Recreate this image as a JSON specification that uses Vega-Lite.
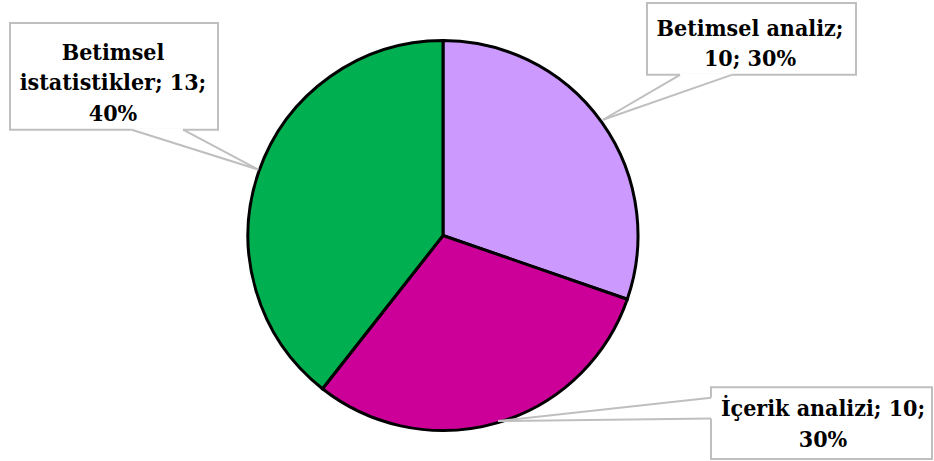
{
  "$schema": "https://vega.github.io/schema/vega-lite/v6.json",
  "width": 934,
  "height": 461,
  "padding": 0,
  "autosize": {"type": "fit", "contains": "padding"},
  "background": "white",
  "config": {"view": {"stroke": null}, "axis": {"disable": true}},
  "data": {
    "values": [
      {"kategori": "Betimsel analiz", "n": 10, "yuzde": "30%", "sira": 1, "etiket": "Betimsel analiz;\n10; 30%"},
      {"kategori": "İçerik analizi", "n": 10, "yuzde": "30%", "sira": 2, "etiket": "İçerik analizi; 10;\n30%"},
      {"kategori": "Betimsel istatistikler", "n": 13, "yuzde": "40%", "sira": 3, "etiket": "Betimsel\nistatistikler; 13;\n40%"}
    ]
  },
  "encoding": {
    "x": {"type": "quantitative", "scale": {"domain": [-2.2718, 2.5179], "nice": false, "zero": false}},
    "y": {"type": "quantitative", "scale": {"domain": [-1.1538, 1.2103], "nice": false, "zero": false}}
  },
  "layer": [
    {
      "mark": {"type": "arc", "outerRadius": 195, "stroke": "black", "strokeWidth": 3},
      "encoding": {
        "theta": {"field": "n", "type": "quantitative", "stack": true},
        "order": {"field": "sira", "type": "quantitative"},
        "color": {"field": "kategori", "type": "nominal", "legend": null,
          "scale": {"domain": ["Betimsel analiz", "İçerik analizi", "Betimsel istatistikler"], "range": ["#CC99FF", "#CC0099", "#00B050"]}},
        "x": {"datum": 0, "type": "quantitative"},
        "y": {"datum": 0, "type": "quantitative"}
      }
    },

    {
      "transform": [{"filter": "datum.kategori === 'Betimsel istatistikler'"}],
      "mark": {"type": "rect", "fill": "white", "stroke": "#BFBFBF", "strokeWidth": 2},
      "encoding": {
        "x": {"datum": -2.2205, "type": "quantitative"}, "x2": {"datum": -1.1538},
        "y": {"datum": 1.0923, "type": "quantitative"}, "y2": {"datum": 0.5436}
      }
    },
    {
      "transform": [{"filter": "datum.kategori === 'Betimsel istatistikler'"}],
      "mark": {"type": "rule", "stroke": "white", "strokeWidth": 3},
      "encoding": {
        "x": {"datum": -1.5964, "type": "quantitative"}, "x2": {"datum": -1.3333},
        "y": {"datum": 0.5436, "type": "quantitative"}, "y2": {"datum": 0.5436}
      }
    },
    {
      "transform": [{"filter": "datum.kategori === 'Betimsel istatistikler'"}],
      "mark": {"type": "rule", "stroke": "#BFBFBF", "strokeWidth": 2},
      "encoding": {
        "x": {"datum": -1.5964, "type": "quantitative"}, "x2": {"datum": -0.9472},
        "y": {"datum": 0.5436, "type": "quantitative"}, "y2": {"datum": 0.3385}
      }
    },
    {
      "transform": [{"filter": "datum.kategori === 'Betimsel istatistikler'"}],
      "mark": {"type": "rule", "stroke": "#BFBFBF", "strokeWidth": 2},
      "encoding": {
        "x": {"datum": -1.3333, "type": "quantitative"}, "x2": {"datum": -0.9472},
        "y": {"datum": 0.5436, "type": "quantitative"}, "y2": {"datum": 0.3385}
      }
    },
    {
      "transform": [{"filter": "datum.kategori === 'Betimsel istatistikler'"}],
      "mark": {"type": "text", "font": "DejaVu Serif Condensed", "fontWeight": 700, "fontSize": 23, "lineHeight": 30.5, "lineBreak": "\n", "align": "center", "baseline": "alphabetic", "fill": "black"},
      "encoding": {
        "text": {"field": "etiket"},
        "x": {"datum": -1.6923, "type": "quantitative"},
        "y": {"datum": 0.9026, "type": "quantitative"}
      }
    },

    {
      "transform": [{"filter": "datum.kategori === 'Betimsel analiz'"}],
      "mark": {"type": "rect", "fill": "white", "stroke": "#BFBFBF", "strokeWidth": 2},
      "encoding": {
        "x": {"datum": 1.0462, "type": "quantitative"}, "x2": {"datum": 2.1179},
        "y": {"datum": 1.1949, "type": "quantitative"}, "y2": {"datum": 0.8256}
      }
    },
    {
      "transform": [{"filter": "datum.kategori === 'Betimsel analiz'"}],
      "mark": {"type": "rule", "stroke": "white", "strokeWidth": 3},
      "encoding": {
        "x": {"datum": 1.2154, "type": "quantitative"}, "x2": {"datum": 1.4805},
        "y": {"datum": 0.8256, "type": "quantitative"}, "y2": {"datum": 0.8256}
      }
    },
    {
      "transform": [{"filter": "datum.kategori === 'Betimsel analiz'"}],
      "mark": {"type": "rule", "stroke": "#BFBFBF", "strokeWidth": 2},
      "encoding": {
        "x": {"datum": 1.2154, "type": "quantitative"}, "x2": {"datum": 0.8205},
        "y": {"datum": 0.8256, "type": "quantitative"}, "y2": {"datum": 0.5949}
      }
    },
    {
      "transform": [{"filter": "datum.kategori === 'Betimsel analiz'"}],
      "mark": {"type": "rule", "stroke": "#BFBFBF", "strokeWidth": 2},
      "encoding": {
        "x": {"datum": 1.4805, "type": "quantitative"}, "x2": {"datum": 0.8205},
        "y": {"datum": 0.8256, "type": "quantitative"}, "y2": {"datum": 0.5949}
      }
    },
    {
      "transform": [{"filter": "datum.kategori === 'Betimsel analiz'"}],
      "mark": {"type": "text", "font": "DejaVu Serif Condensed", "fontWeight": 700, "fontSize": 23, "lineHeight": 30.5, "lineBreak": "\n", "align": "center", "baseline": "alphabetic", "fill": "black"},
      "encoding": {
        "text": {"field": "etiket"},
        "x": {"datum": 1.5744, "type": "quantitative"},
        "y": {"datum": 1.0256, "type": "quantitative"}
      }
    },

    {
      "transform": [{"filter": "datum.kategori === 'İçerik analizi'"}],
      "mark": {"type": "rect", "fill": "white", "stroke": "#BFBFBF", "strokeWidth": 2},
      "encoding": {
        "x": {"datum": 1.3744, "type": "quantitative"}, "x2": {"datum": 2.5077},
        "y": {"datum": -0.7795, "type": "quantitative"}, "y2": {"datum": -1.1487}
      }
    },
    {
      "transform": [{"filter": "datum.kategori === 'İçerik analizi'"}],
      "mark": {"type": "rule", "stroke": "white", "strokeWidth": 3},
      "encoding": {
        "x": {"datum": 1.3744, "type": "quantitative"}, "x2": {"datum": 1.3744},
        "y": {"datum": -0.8333, "type": "quantitative"}, "y2": {"datum": -0.9410}
      }
    },
    {
      "transform": [{"filter": "datum.kategori === 'İçerik analizi'"}],
      "mark": {"type": "rule", "stroke": "#BFBFBF", "strokeWidth": 2},
      "encoding": {
        "x": {"datum": 1.3744, "type": "quantitative"}, "x2": {"datum": 0.2821},
        "y": {"datum": -0.8333, "type": "quantitative"}, "y2": {"datum": -0.9538}
      }
    },
    {
      "transform": [{"filter": "datum.kategori === 'İçerik analizi'"}],
      "mark": {"type": "rule", "stroke": "#BFBFBF", "strokeWidth": 2},
      "encoding": {
        "x": {"datum": 1.3744, "type": "quantitative"}, "x2": {"datum": 0.2821},
        "y": {"datum": -0.9410, "type": "quantitative"}, "y2": {"datum": -0.9538}
      }
    },
    {
      "transform": [{"filter": "datum.kategori === 'İçerik analizi'"}],
      "mark": {"type": "text", "font": "DejaVu Serif Condensed", "fontWeight": 700, "fontSize": 23, "lineHeight": 30.5, "lineBreak": "\n", "align": "center", "baseline": "alphabetic", "fill": "black"},
      "encoding": {
        "text": {"field": "etiket"},
        "x": {"datum": 1.9487, "type": "quantitative"},
        "y": {"datum": -0.9282, "type": "quantitative"}
      }
    }
  ]
}
